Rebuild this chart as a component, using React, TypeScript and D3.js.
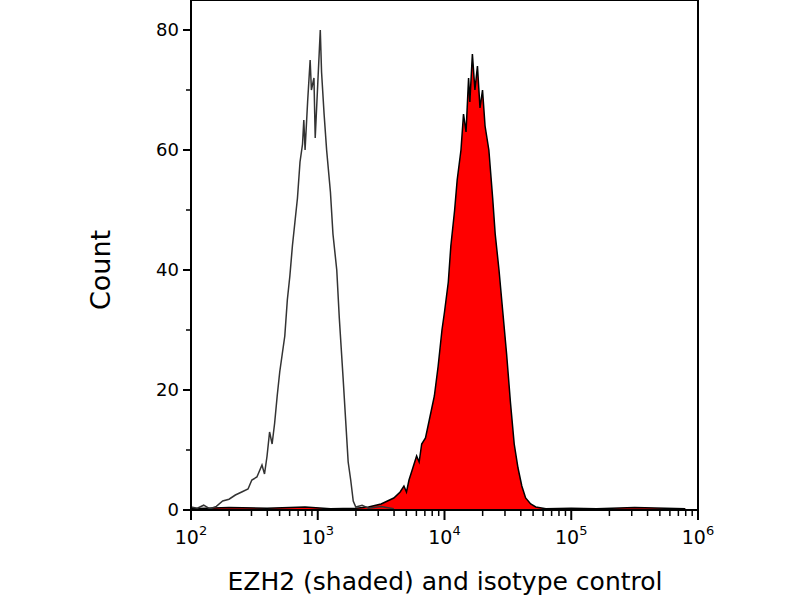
import React from 'react';
import * as d3 from 'd3';

// log10(intensity), count
const isotypeLog = [2.0, 2.05, 2.1, 2.15, 2.2, 2.25, 2.3, 2.35, 2.4, 2.45, 2.48, 2.52, 2.56, 2.58, 2.6, 2.62, 2.64, 2.66, 2.68, 2.7, 2.72, 2.74, 2.76, 2.78, 2.8, 2.82, 2.84, 2.86, 2.88, 2.89, 2.9, 2.92, 2.94, 2.95, 2.97, 2.98, 3.0, 3.02, 3.03, 3.05, 3.07, 3.1, 3.12, 3.15, 3.17, 3.2, 3.22, 3.24, 3.26, 3.28, 3.3, 3.35, 3.4, 3.5, 3.6];
const isotypeCount = [0.5, 0.3, 0.8, 0.2, 0.6, 1.5, 1.8, 2.5, 3, 3.5, 5, 5.5, 7.5, 6, 9, 13, 11, 14.5, 19, 23, 26, 29, 35, 39, 44, 48, 52, 58, 61, 65, 60, 68, 75, 70, 72, 62, 71, 80, 73, 66, 60, 53, 46, 40, 32, 22, 15, 8, 5, 1.5, 0.5, 0.8, 0.3, 0.6, 0.2];

const ezh2Log = [2.0, 2.3, 2.6, 2.9, 3.1, 3.3, 3.4, 3.5, 3.55, 3.6, 3.65, 3.68, 3.7, 3.72, 3.75, 3.78, 3.8, 3.82, 3.85, 3.88, 3.9, 3.92, 3.95, 3.98, 4.0, 4.03, 4.05, 4.08, 4.1, 4.13, 4.15, 4.17, 4.19, 4.2, 4.22, 4.24, 4.26, 4.28, 4.3, 4.32, 4.35, 4.38, 4.4, 4.43, 4.46, 4.49, 4.52, 4.55, 4.58, 4.61, 4.64, 4.68, 4.72, 4.8, 5.0, 5.2, 5.5, 5.9];
const ezh2Count = [0.2, 0.4, 0.3, 0.5, 0.2, 0.3, 0.5, 1, 1.5, 2, 3, 4, 3, 5, 7, 9, 8, 11, 12, 15, 17, 19, 24, 30, 33, 38, 44, 50, 55, 60, 66, 63, 72, 68, 76, 70, 74, 67, 70, 64, 60, 52, 46, 40, 33, 26, 18, 11, 7, 4, 2, 1, 0.5, 0.2, 0.3, 0.2, 0.4, 0.2];

const yTicks = [0, 20, 40, 60, 80];
const yMinor = [10, 30, 50, 70];
const xDecades = [2, 3, 4, 5, 6];

const left = 191, right = 698, top = 0, bottom = 510;
const font = '"DejaVu Sans", sans-serif';

export default function App() {
  const x = d3.scaleLinear().domain([2, 6]).range([left, right]);
  const y = d3.scaleLinear().domain([0, 85]).range([bottom, top]);
  const line = d3.line<[number, number]>().x(d => x(d[0])).y(d => y(d[1]));
  const area = d3.area<[number, number]>().x(d => x(d[0])).y0(bottom).y1(d => y(d[1]));
  const iso = isotypeLog.map((v, i) => [v, isotypeCount[i]] as [number, number]);
  const ez = ezh2Log.map((v, i) => [v, ezh2Count[i]] as [number, number]);

  const minor: number[] = [];
  xDecades.slice(0, -1).forEach(d => {
    for (let k = 2; k <= 9; k++) minor.push(d + Math.log10(k));
  });

  return (
    <svg width={800} height={600} style={{ position: 'absolute', left: 0, top: 0, background: '#fff' }}>
      <path d={area(ez) || ''} fill="#ff0000" />
      <path d={line(ez) || ''} fill="none" stroke="#000" strokeWidth={1.5} />
      <path d={line(iso) || ''} fill="none" stroke="#333" strokeWidth={1.5} />
      <rect x={left} y={top} width={right - left} height={bottom - top} fill="none" stroke="#000" strokeWidth={2} />
      {yTicks.map(t => (
        <g key={t}>
          <line x1={left - 8} x2={left} y1={y(t)} y2={y(t)} stroke="#000" strokeWidth={2} />
          <text x={left - 12} y={y(t)} dy="0.35em" textAnchor="end" fontFamily={font} fontSize={18}>{t}</text>
        </g>
      ))}
      {yMinor.map(t => (
        <line key={t} x1={left - 5} x2={left} y1={y(t)} y2={y(t)} stroke="#000" strokeWidth={1.5} />
      ))}
      {xDecades.map(d => (
        <g key={d}>
          <line x1={x(d)} x2={x(d)} y1={bottom} y2={bottom + 10} stroke="#000" strokeWidth={2} />
          <text x={x(d)} y={bottom + 34} textAnchor="middle" fontFamily={font} fontSize={19}>
            10<tspan dy={-9} fontSize={13}>{d}</tspan>
          </text>
        </g>
      ))}
      {minor.map((m, i) => (
        <line key={i} x1={x(m)} x2={x(m)} y1={bottom} y2={bottom + 6} stroke="#000" strokeWidth={1.5} />
      ))}
      <text transform={`translate(110,${y(40)}) rotate(-90)`} textAnchor="middle" fontFamily={font} fontSize={27}>Count</text>
      <text x={445} y={590} textAnchor="middle" fontFamily={font} fontSize={25}>EZH2 (shaded) and isotype control</text>
    </svg>
  );
}
